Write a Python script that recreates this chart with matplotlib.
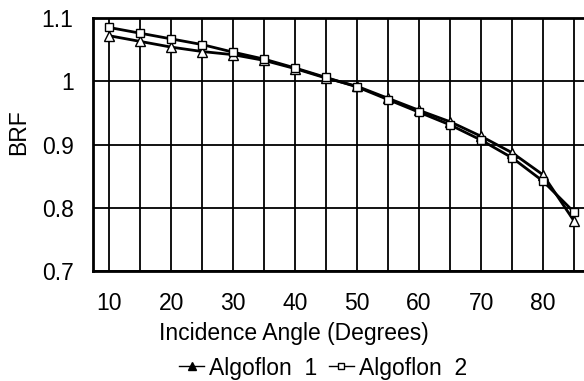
import matplotlib.pyplot as plt
from matplotlib.lines import Line2D

plt.rcParams['font.family'] = ['Liberation Sans', 'DejaVu Sans']

# incidence angles and BRF for the two samples
angles = [10, 15, 20, 25, 30, 35, 40, 45, 50, 55, 60, 65, 70, 75, 80, 85]
algoflon1 = [1.072, 1.063, 1.054, 1.047, 1.042, 1.033, 1.020, 1.005, 0.992, 0.973, 0.954, 0.936, 0.913, 0.887, 0.852, 0.779]
algoflon2 = [1.085, 1.076, 1.067, 1.058, 1.046, 1.035, 1.021, 1.006, 0.991, 0.971, 0.951, 0.931, 0.907, 0.879, 0.842, 0.793]

fs = 16.5

fig = plt.figure(figsize=(5.84, 3.81), dpi=100)
ax = fig.add_axes([93 / 584, 1 - 271 / 381, 491 / 584, 253 / 381])

ax.plot(angles, algoflon1, color='black', lw=2, marker='^', ms=7,
        mfc='white', mec='black', mew=1.0, zorder=3)
ax.plot(angles, algoflon2, color='black', lw=2, marker='s', ms=6,
        mfc='white', mec='black', mew=1.0, zorder=3)

ax.set_xlim(7.4, 86.6)
ax.set_ylim(0.7, 1.1)
ax.set_xticks(range(10, 90, 10))
ax.set_xticks(range(10, 90, 5), minor=True)
ax.set_yticks([0.7, 0.8, 0.9, 1.0, 1.1])
ax.set_yticklabels(['0.7', '0.8', '0.9', '1', '1.1'])
ax.grid(True, which='both', axis='x', color='black', lw=1.3)
ax.grid(True, which='major', axis='y', color='black', lw=1.3)
ax.tick_params(which='both', length=0, labelsize=fs)
ax.tick_params(axis='x', pad=15)
ax.tick_params(axis='y', pad=14)

for side in ['left', 'top', 'bottom']:
    ax.spines[side].set_linewidth(2)
ax.spines['right'].set_visible(False)

ax.set_xlabel('Incidence Angle (Degrees)', fontsize=fs)
ax.xaxis.set_label_coords(0.41, -0.2)
ax.set_ylabel('BRF', fontsize=fs)
ax.yaxis.set_label_coords(-0.128, 0.55)

handles = [
    Line2D([], [], color='black', lw=1, marker='^', ms=6, mfc='black', mec='black'),
    Line2D([], [], color='black', lw=1, marker='s', ms=5, mfc='white', mec='black'),
]
fig.legend(handles, ['Algoflon  1', 'Algoflon  2'], loc='center',
           bbox_to_anchor=(0.553, 1 - 368 / 381), ncol=2, frameon=False,
           fontsize=fs, handlelength=1.1, handletextpad=0.2, columnspacing=0.5)

fig.savefig('out.png', dpi=100)
